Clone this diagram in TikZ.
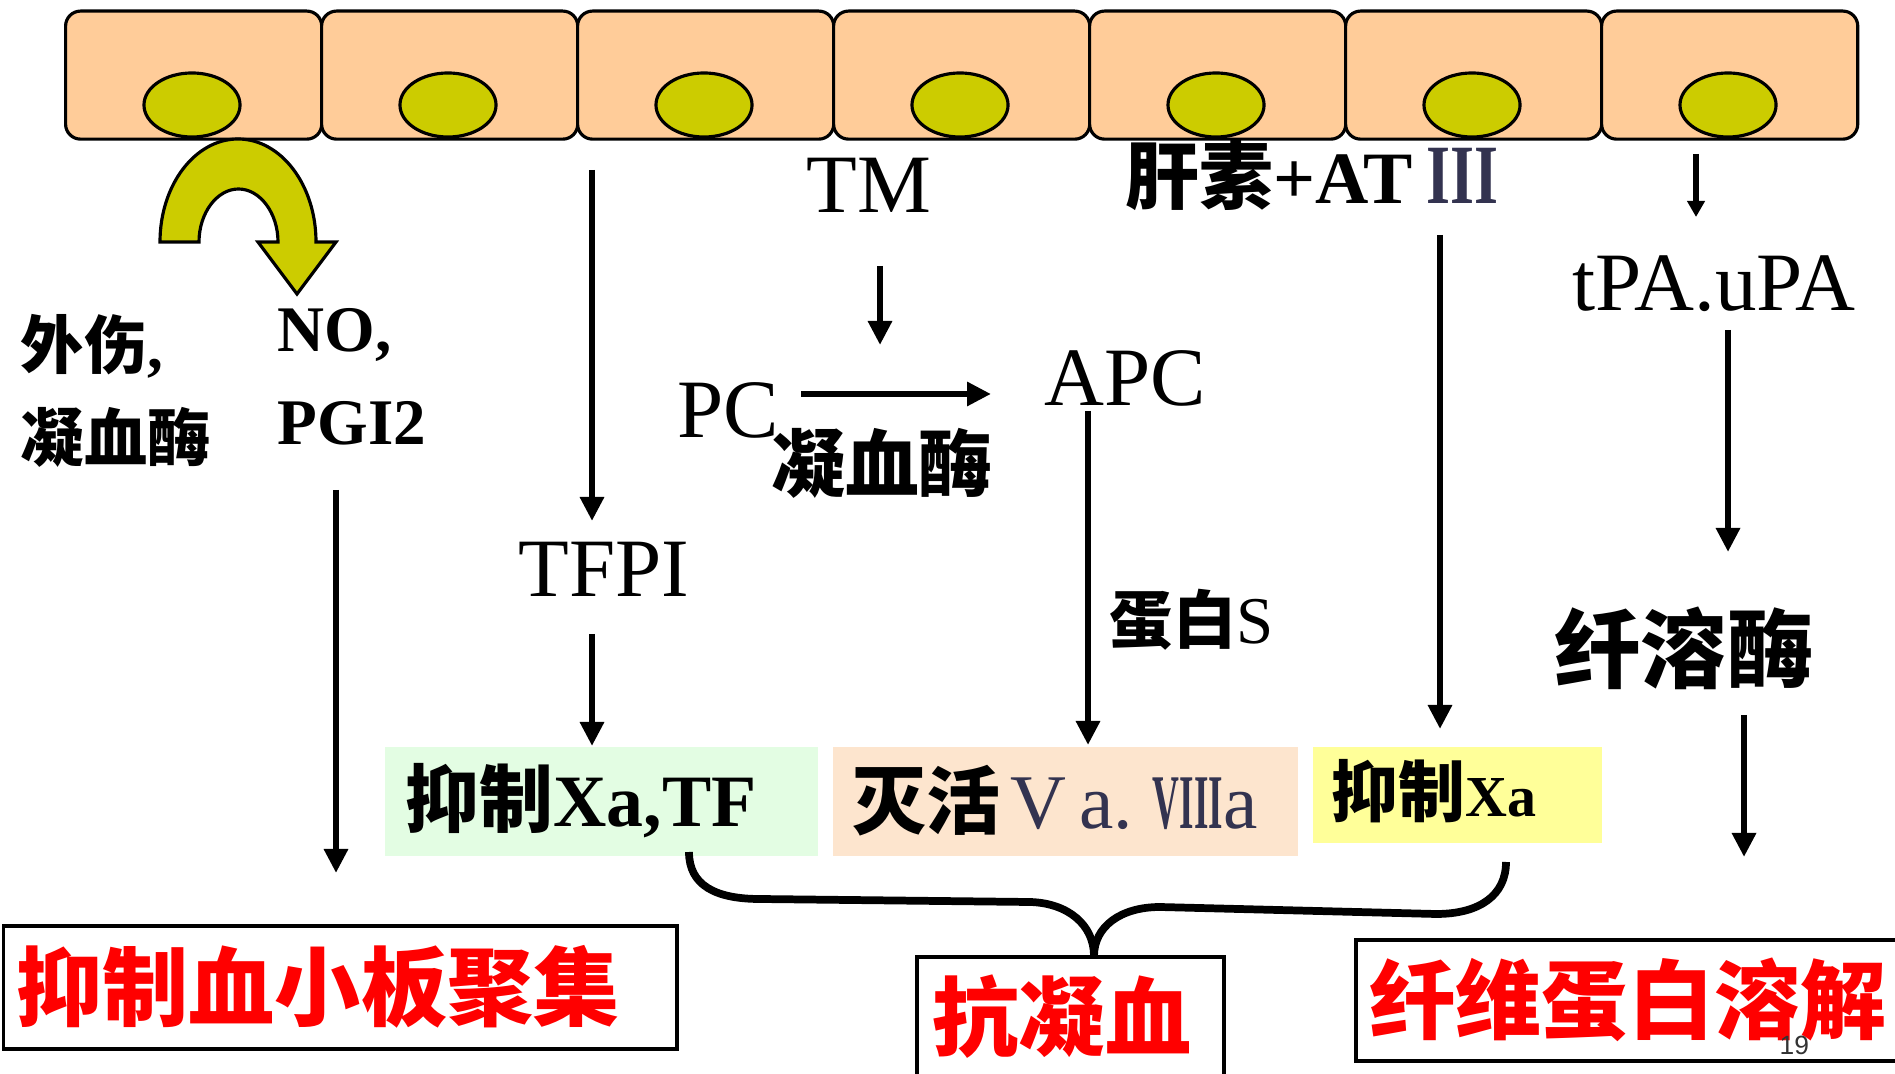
\documentclass[tikz,border=0pt]{standalone}
\usepackage{fontspec}
\usepackage{graphicx}
\setmainfont{Liberation Serif}
\newfontfamily\cjk{Noto Sans CJK SC}
\newfontfamily\arialf{Liberation Sans}
\usetikzlibrary{arrows.meta,shapes.geometric}

\newcommand\fsz[1]{\fontsize{#1}{#1}\selectfont}
\newcommand\zhbold{\cjk\bfseries}

\definecolor{cellc}{RGB}{255,204,153}
\definecolor{nucc}{RGB}{204,204,0}
\definecolor{boxg}{RGB}{227,253,227}
\definecolor{boxo}{RGB}{253,229,206}
\definecolor{boxy}{RGB}{255,255,153}
\definecolor{navy}{RGB}{51,51,80}
\definecolor{redt}{RGB}{255,0,0}

\tikzset{
  cell/.style={draw, line width=0.9pt, fill=cellc, rounded corners=0.15cm,
    inner sep=0pt, minimum width=2.56cm, minimum height=1.28cm, anchor=north west},
  nucleus/.style={draw, line width=0.9pt, fill=nucc, ellipse, inner sep=0pt,
    minimum width=0.96cm, minimum height=0.64cm},
  arr/.style={line width=1.9pt, -{Triangle[width=0.23cm,length=0.24cm]}},
  arrsmall/.style={line width=1.9pt, -{Triangle[width=0.17cm,length=0.16cm]}},
  txt/.style={inner sep=0pt, anchor=base west},
  ctxt/.style={inner sep=0pt, anchor=center},
  panel/.style={inner sep=0pt, anchor=north west},
  redbox/.style={draw, line width=1.1pt, fill=white, inner sep=0pt, anchor=north west},
  redlabel/.style={ctxt, text=redt, font=\zhbold\fsz{24.5pt}},
  brace/.style={line width=2.2pt, line join=round},
}

\begin{document}
\begin{tikzpicture}[x=0.01cm, y=-0.01cm]
\useasboundingbox (0,0) rectangle (1895,1074);

% endothelial cell layer with nuclei
\foreach \i in {0,...,6} {
  \node[cell] (cell\i) at ({64+256*\i},9.5) {};
  \node[nucleus] (nuc\i) at ({192+256*\i},105) {};
}

% curved release arrow under the first cell
\filldraw[fill=nucc, draw=black, line width=0.9pt, line join=miter]
  (160,242) .. controls (160,185) and (195,139) .. (238,139)
            .. controls (281,139) and (316,185) .. (316,242)
  -- (336,242) -- (297,294) -- (258,242) -- (278,242)
            .. controls (278,213) and (260,189) .. (238.5,189)
            .. controls (217,189) and (199,213) .. (199,242)
  -- cycle;

% left column
\node[txt, font=\zhbold\fsz{18pt}] (injury) at (20,369) {外伤{\rmfamily\bfseries ,}};
\node[inner sep=0pt, anchor=west, font=\zhbold\fsz{18pt}] (thrombinL) at (20,437) {凝血酶};
\node[txt, font=\bfseries\fsz{18.5pt}] (no) at (277,352) {NO,};
\node[txt, font=\bfseries\fsz{18.5pt}] (pgi) at (277,445) {PGI2};

% middle labels
\node[txt, font=\fsz{23.6pt}] (tm) at (806,213) {TM};
\node[txt, font=\fsz{23.6pt}] (tfpi) at (518,597) {TFPI};
\node[txt, font=\fsz{23.6pt}] (pc) at (677,438) {PC};
\node[txt, font=\fsz{23.6pt}] (apc) at (1044,406) {APC};
\node[ctxt, font=\zhbold\fsz{21pt}] (thrombinM) at (882,463) {凝血酶};
\node[txt] (heparin) at (1125,204)
  {{\zhbold\fsz{21pt}肝素}{\bfseries\fsz{21pt}+AT}\hspace{0.14cm}{\color{navy}\bfseries\fsz{24pt}\scalebox{0.73}[1]{III}}};
\node[txt] (proteinS) at (1109,644) {{\zhbold\fsz{18pt}蛋白}{\fsz{19pt}S}};

% right column
\node[txt, font=\fsz{23.6pt}] (tpa) at (1572,311) {tPA.uPA};
\node[ctxt, font=\zhbold\fsz{24.5pt}] (plasmin) at (1684,648) {纤溶酶};

% coloured result panels
\node[panel, fill=boxg, minimum width=4.33cm, minimum height=1.09cm] (panelA) at (384,746) {};
\node[panel, fill=boxo, minimum width=4.65cm, minimum height=1.09cm] (panelB) at (832,746) {};
\node[panel, fill=boxy, minimum width=2.89cm, minimum height=0.96cm] (panelC) at (1312,746) {};
\node[txt] (textA) at (405,827) {{\zhbold\fsz{21pt}抑制}{\bfseries\fsz{21pt}Xa,TF}};
\node[txt] (textB) at (852,829)
  {{\zhbold\fsz{21pt}灭活}\hspace{0.1cm}{\color{navy}\fsz{22pt}V\hspace{0.13cm}a.\hspace{0.2cm}{\bfseries\scalebox{0.48}[1]{VIII}}a}};
\node[txt] (textC) at (1331,817) {{\zhbold\fsz{19pt}抑制}{\bfseries\fsz{16.5pt}Xa}};

% outcome boxes
\node[redbox, minimum width=6.735cm, minimum height=1.23cm] (outA) at (1.5,924) {};
\node[redbox, minimum width=3.07cm, minimum height=1.40cm] (outB) at (915,955) {};
\node[redbox, minimum width=5.60cm, minimum height=1.21cm] (outC) at (1354,938) {};
\node[redlabel] (labA) at (318,987) {抑制血小板聚集};
\node[redlabel] (labB) at (1062,1017) {抗凝血};
\node[redlabel] (labC) at (1628,1000) {纤维蛋白溶解};
\node[txt, font=\arialf\fsz{7.5pt}, text=black!80] (pagenum) at (1779,1054) {19};

% arrow end points
\coordinate (a1s) at (336,490);  \coordinate (a1e) at (336,873);
\coordinate (a2s) at (592,170);  \coordinate (a2e) at (592,521);
\coordinate (a3s) at (592,634);  \coordinate (a3e) at (592,746);
\coordinate (a4s) at (880,266);  \coordinate (a4e) at (880,345);
\coordinate (a5s) at (801,394);  \coordinate (a5e) at (991,394);
\coordinate (a6s) at (1088,411); \coordinate (a6e) at (1088,745);
\coordinate (a7s) at (1440,235); \coordinate (a7e) at (1440,729);
\coordinate (a8s) at (1696,154); \coordinate (a8e) at (1696,217);
\coordinate (a9s) at (1728,330); \coordinate (a9e) at (1728,552);
\coordinate (a10s) at (1744,715); \coordinate (a10e) at (1744,857);

\draw[arr] (a1s) -- (a1e);
\draw[arr] (a2s) -- (a2e);
\draw[arr] (a3s) -- (a3e);
\draw[arr] (a4s) -- (a4e);
\draw[arr] (a5s) -- (a5e);
\draw[arr] (a6s) -- (a6e);
\draw[arr] (a7s) -- (a7e);
\draw[arrsmall] (a8s) -- (a8e);
\draw[arr] (a9s) -- (a9e);
\draw[arr] (a10s) -- (a10e);

% brace joining the three panels to the anticoagulation box
\coordinate (bl) at (689,852);
\coordinate (bm) at (1094,956);
\coordinate (br) at (1506,862);
\draw[brace] (bl) .. controls (689,885) and (715,899) .. (760,899)
  -- (1030,902) .. controls (1068,903) and (1094,925) .. (bm);
\draw[brace] (bm) .. controls (1094,927) and (1120,907) .. (1160,907)
  -- (1436,914) .. controls (1480,914) and (1506,895) .. (br);

\end{tikzpicture}
\end{document}
